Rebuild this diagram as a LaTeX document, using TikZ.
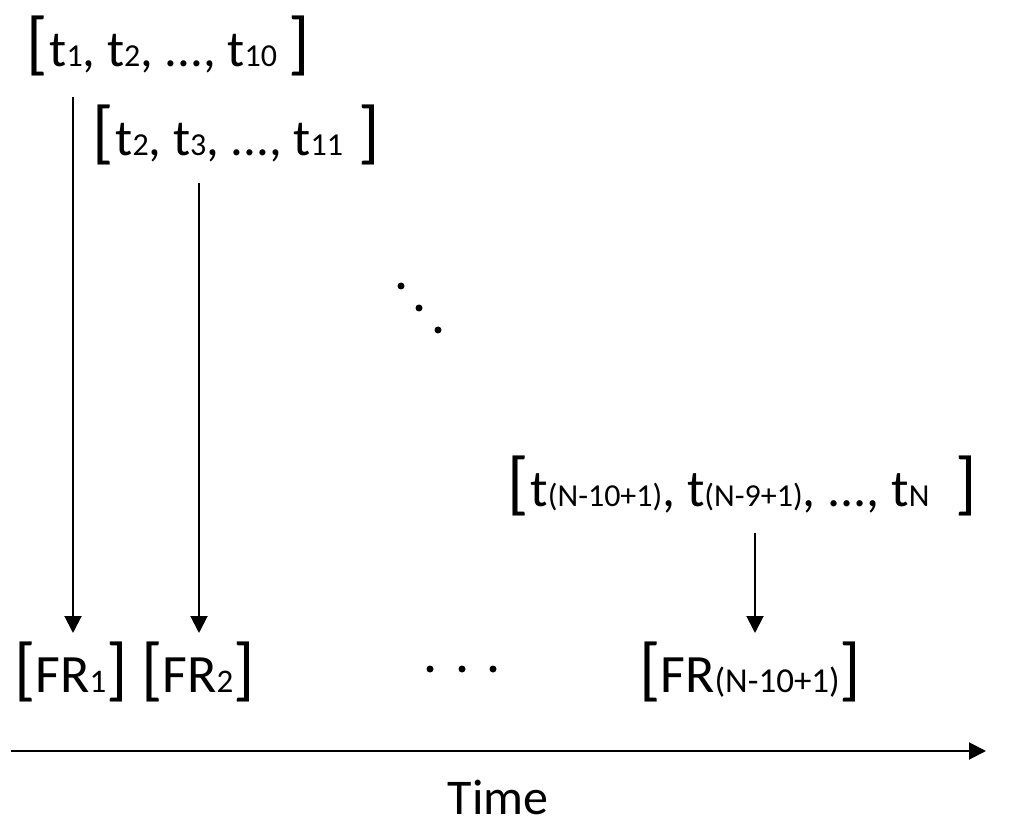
\documentclass[tikz,border=0pt]{standalone}
\usepackage{fontspec}
\setmainfont{Carlito}
\usetikzlibrary{arrows.meta}
\newcommand{\fsz}[1]{\fontsize{#1}{#1}\selectfont}
\tikzset{
  lbl/.style={anchor=base west, inner sep=0pt, outer sep=0pt},
  conn/.style={line width=2pt, -{Triangle[length=17pt,width=17pt]}},
  dot/.style={fill=black, circle, inner sep=0pt, minimum size=7pt}
}
\begin{document}
\begin{tikzpicture}[x=1pt,y=-1pt]
\useasboundingbox (0,0) rectangle (1010,834);
% top labels
\node[lbl] (w1) at (26,67) {{\fsz{70}[}\kern2pt{\fsz{51}t}{\fsz{32}1}{\fsz{51}, t}{\fsz{32}2}{\fsz{51}, ..., t}{\fsz{32}10}{\fsz{51} }{\fsz{70}]}};
\node[lbl] (w2) at (92,156) {{\fsz{70}[}\kern2pt{\fsz{51}t}{\fsz{32}2}{\fsz{51}, t}{\fsz{32}3}{\fsz{51}, ..., t}{\fsz{32}11}{\fsz{51} }\kern4pt{\fsz{70}]}};
\node[lbl] (w3) at (507,506) {{\fsz{70}[}\kern2pt{\fsz{52}t}{\fsz{32}(N-10+1)}{\fsz{52}, t}{\fsz{32}(N-9+1)}{\fsz{52}, ..., t}{\fsz{32}N}{\fsz{52} }\kern14pt{\fsz{70}]}};
% bottom labels
\node[lbl] (f1) at (14,692) {{\fsz{70}[}{\fsz{54}FR}{\fsz{33}1}{\fsz{70}]}};
\node[lbl] (f2) at (141,692) {{\fsz{70}[}{\fsz{54}FR}{\fsz{33}2}{\fsz{70}]}};
\node[lbl] (f3) at (639,692) {{\fsz{70}[}{\fsz{54}FR}{\fsz{35}(N-10+1)}{\fsz{70}]}};
% dots
\node[dot] (d1) at (401,286) {};
\node[dot] (d2) at (419,308) {};
\node[dot] (d3) at (438,330) {};
\node[dot] (h1) at (430,669) {};
\node[dot] (h2) at (462,669) {};
\node[dot] (h3) at (493,669) {};
% connector ends
\coordinate (s1) at (73,97);
\coordinate (e1) at (73,633);
\coordinate (s2) at (199,183);
\coordinate (e2) at (199,633);
\coordinate (s3) at (755,533);
\coordinate (e3) at (755,633);
\draw[conn] (s1) -- (e1);
\draw[conn] (s2) -- (e2);
\draw[conn] (s3) -- (e3);
% time axis
\coordinate (t0) at (11,751);
\coordinate (t1) at (986,751);
\draw[conn] (t0) -- (t1);
\node[anchor=base, inner sep=0pt] (time) at (498,814) {\fsz{50}Time};
\end{tikzpicture}
\end{document}
